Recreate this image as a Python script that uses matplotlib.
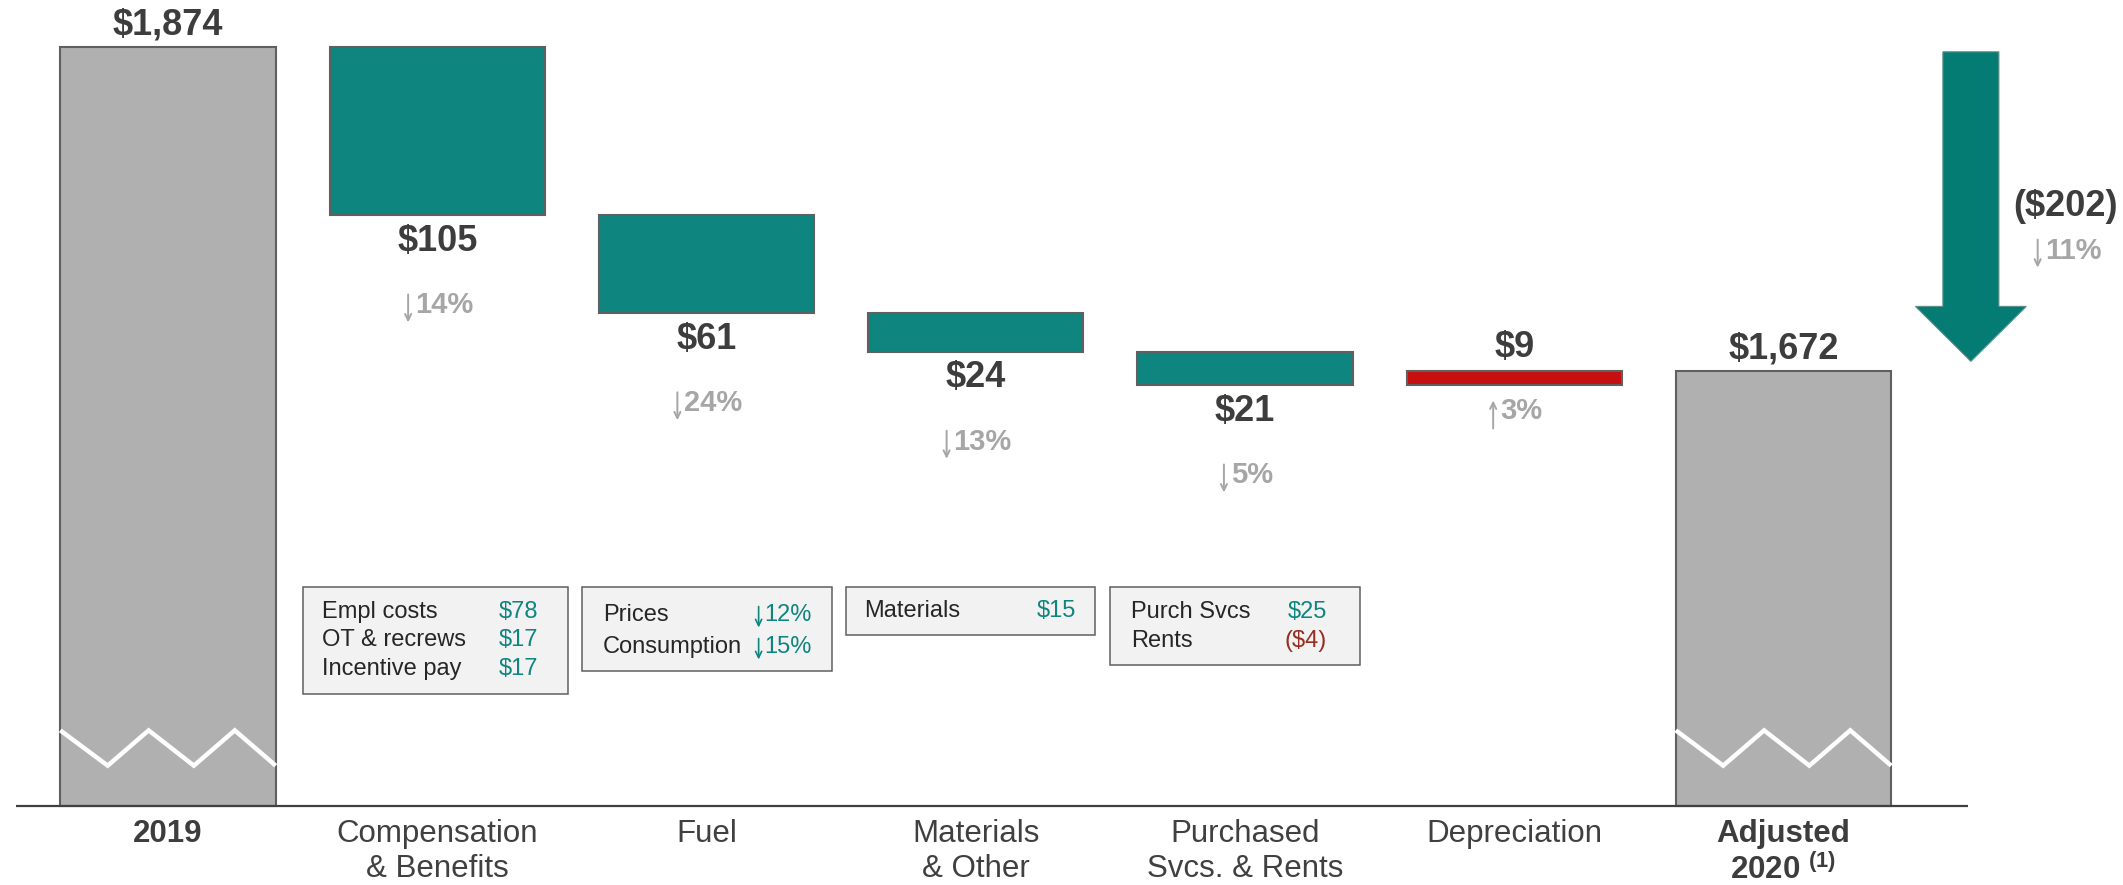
import matplotlib
matplotlib.use('Agg')
import matplotlib.pyplot as plt
from matplotlib.patches import Rectangle, Polygon
from matplotlib.transforms import Affine2D
from matplotlib.text import OffsetFrom

plt.rcParams['font.family'] = ['Liberation Sans', 'DejaVu Sans']
plt.rcParams['mathtext.fontset'] = 'custom'
plt.rcParams['mathtext.rm'] = 'Liberation Sans'
plt.rcParams['mathtext.bf'] = 'Liberation Sans:bold'

# ---------------- data ----------------
categories = ['2019', 'Compensation\n& Benefits', 'Fuel', 'Materials\n& Other',
              'Purchased\nSvcs. & Rents', 'Depreciation', 'Adjusted\n2020']
footnote = '(1)'
start_value = 1874
end_value = 1672
changes = [-105, -61, -24, -21, 9]
change_labels = ['$105', '$61', '$24', '$21', '$9']
pct_labels = ['14%', '24%', '13%', '5%', '3%']
pct_dirs = ['down', 'down', 'down', 'down', 'up']
total_labels = ['$1,874', '$1,672']
total_change_label = '($202)'
total_pct_label = '11%'

box_labels = [['Empl costs', 'OT & recrews', 'Incentive pay'],
              ['Prices', 'Consumption'],
              ['Materials'],
              ['Purch Svcs', 'Rents']]
box_values = [['$78', '$17', '$17'],
              ['12%', '15%'],
              ['$15'],
              ['$25', '($4)']]
box_value_dirs = [[None, None, None],
                  ['down', 'down'],
                  [None],
                  [None, None]]
box_value_kinds = [['good', 'good', 'good'],
                   ['good', 'good'],
                   ['good'],
                   ['good', 'bad']]

# ---------------- style ----------------
GRAY = '#b0b0b0'
TEAL = '#0e857f'
TEAL_DARK = '#047b73'
RED = '#c80f0f'
EDGE = '#606060'
DARK = '#3d3d3d'
PCT = '#a6a6a6'
BOX_TXT = '#262626'
GOOD = '#0e857f'
BAD = '#962d1f'

W, H = 2123, 885
fig = plt.figure(figsize=(W / 100, H / 100), dpi=100)
ax = fig.add_axes([0, 0, 1, 1])
ax.axis('off')
ax.set_xlim(-0.624, 7.261)
ax.set_ylim(1351.6, 1903.3)
BASE = 1401
BAR_W = 0.8

pxT = Affine2D().scale(1, -1).translate(0, H)  # top-left pixel coords

# ---------------- bars ----------------
n = len(categories)
xs = list(range(n))
bottoms, heights, colors = [], [], []
bottoms.append(BASE); heights.append(start_value - BASE); colors.append(GRAY)
level = start_value
levels = []
for c in changes:
    new = level + c
    bottoms.append(min(level, new)); heights.append(abs(c))
    colors.append(TEAL if c < 0 else RED)
    levels.append((level, new))
    level = new
bottoms.append(BASE); heights.append(end_value - BASE); colors.append(GRAY)

ax.bar(xs, heights, bottom=bottoms, width=BAR_W, color=colors,
       edgecolor=EDGE, linewidth=1.5, zorder=2)

# baseline
ax.plot([-0.565, 6.685], [BASE, BASE], color='#404040', lw=1.6, zorder=3,
        solid_capstyle='butt')

# break zigzags on total bars
fr = [0, 0.22, 0.41, 0.62, 0.81, 1.0]
for i in (0, n - 1):
    zx = [i - BAR_W / 2 + f * BAR_W for f in fr]
    zy = [BASE + (47 if k % 2 == 0 else 25) for k in range(len(fr))]
    ax.plot(zx, zy, color='white', lw=3.2, zorder=4, solid_capstyle='butt',
            solid_joinstyle='miter')

bold = dict(fontweight='bold')
# total labels
for i, v, lab in ((0, start_value, total_labels[0]), (n - 1, end_value, total_labels[1])):
    ax.annotate(lab, xy=(i, v), xytext=(0, 22), textcoords='offset pixels',
                ha='center', va='center', fontsize=26, color=DARK, **bold)


def thin_arrow(t, direction, color, half_len, gap, drop, lw=1.4):
    """Draw a thin arrow glyph just left of text artist t."""
    off = OffsetFrom(t, (0, 0.5), unit='pixels')
    x = -gap
    ytop = half_len - drop
    ybot = -half_len - drop
    if direction == 'down':
        head, tail = (x, ybot), (x, ytop)
    else:
        head, tail = (x, ytop), (x, ybot)
    ax.annotate('', xy=head, xycoords=off, xytext=tail, textcoords=off,
                arrowprops=dict(arrowstyle='->,head_length=0.45,head_width=0.22',
                                color=color, lw=lw, shrinkA=0, shrinkB=0))


def pct_text(xy, dy, direction, num, dx=7):
    t = ax.annotate(num, xy=xy, xytext=(dx, dy), textcoords='offset pixels',
                    ha='center', va='center', fontsize=21, color=PCT, **bold,
                    annotation_clip=False)
    thin_arrow(t, direction, PCT, half_len=14, gap=7, drop=3)
    return t


for k, (c, lab) in enumerate(zip(changes, change_labels)):
    i = k + 1
    before, after = levels[k]
    bot = min(before, after)
    top = max(before, after)
    if c < 0:
        ax.annotate(lab, xy=(i, bot), xytext=(0, -26), textcoords='offset pixels',
                    ha='center', va='center', fontsize=26, color=DARK, **bold)
        pct_text((i, bot), -90, pct_dirs[k], pct_labels[k])
    else:
        ax.annotate(lab, xy=(i, top), xytext=(0, 24), textcoords='offset pixels',
                    ha='center', va='center', fontsize=26, color=DARK, **bold)
        pct_text((i, bot), -26, pct_dirs[k], pct_labels[k])

# category labels
for i, lab in enumerate(categories):
    isb = i in (0, n - 1)
    txt = lab + (' $^{\\mathbf{' + footnote + '}}$' if i == n - 1 else '')
    ax.annotate(txt, xy=(i, BASE), xytext=(0, -13), textcoords='offset pixels',
                ha='center', va='top', fontsize=22.5, color=DARK if isb else '#404040',
                fontweight='bold' if isb else 'normal', linespacing=1.22)

# total change arrow
AX = 6.696
a_top = start_value - 3
a_tip = end_value + 6
a_head = a_tip + 34.3
sw, hw = 0.104, 0.206
arrow_pts = [(AX - sw, a_top), (AX + sw, a_top), (AX + sw, a_head), (AX + hw, a_head),
             (AX, a_tip), (AX - hw, a_head), (AX - sw, a_head)]
ax.add_patch(Polygon(arrow_pts, closed=True, facecolor=TEAL_DARK, edgecolor='#5f8f8a',
                     lw=0.8, zorder=2, clip_on=False))
mid = (a_top + a_tip) / 2
ax.annotate(total_change_label, xy=(AX + 0.353, mid), ha='center', va='center',
            fontsize=26, color=DARK, **bold, annotation_clip=False)
pct_text((AX + 0.353, mid), -44, 'down', total_pct_label, dx=7)

# detail boxes (layout in pixels)
box_rects = [(303, 587, 265, 107), (582, 587, 250, 84), (846, 587, 249, 48), (1110, 587, 250, 78)]
text_left = [322, 603, 864, 1131]
value_right = [538, 812, 1076, 1327]
first_row = [612, 615, 611, 612]
row_step = [28.5, 32, 0, 29]
for b in range(len(box_labels)):
    x0, y0, w, h = box_rects[b]
    ax.add_patch(Rectangle((x0, y0 + h), w, -h, transform=pxT, facecolor='#f2f2f2',
                           edgecolor='#5f5f5f', lw=1.1, zorder=3))
    for r, (lab, val, d, kind) in enumerate(zip(box_labels[b], box_values[b],
                                                box_value_dirs[b], box_value_kinds[b])):
        yy = first_row[b] + r * row_step[b]
        ax.text(text_left[b], yy, lab, transform=pxT, ha='left', va='center',
                fontsize=17, color=BOX_TXT, zorder=4)
        col = GOOD if kind == 'good' else BAD
        vt = ax.text(value_right[b], yy, val, transform=pxT, ha='right', va='center',
                     fontsize=17, color=col, zorder=4)
        if d is not None:
            thin_arrow(vt, d, col, half_len=10.5, gap=6, drop=2, lw=1.2)

fig.savefig('out.png', dpi=100)
